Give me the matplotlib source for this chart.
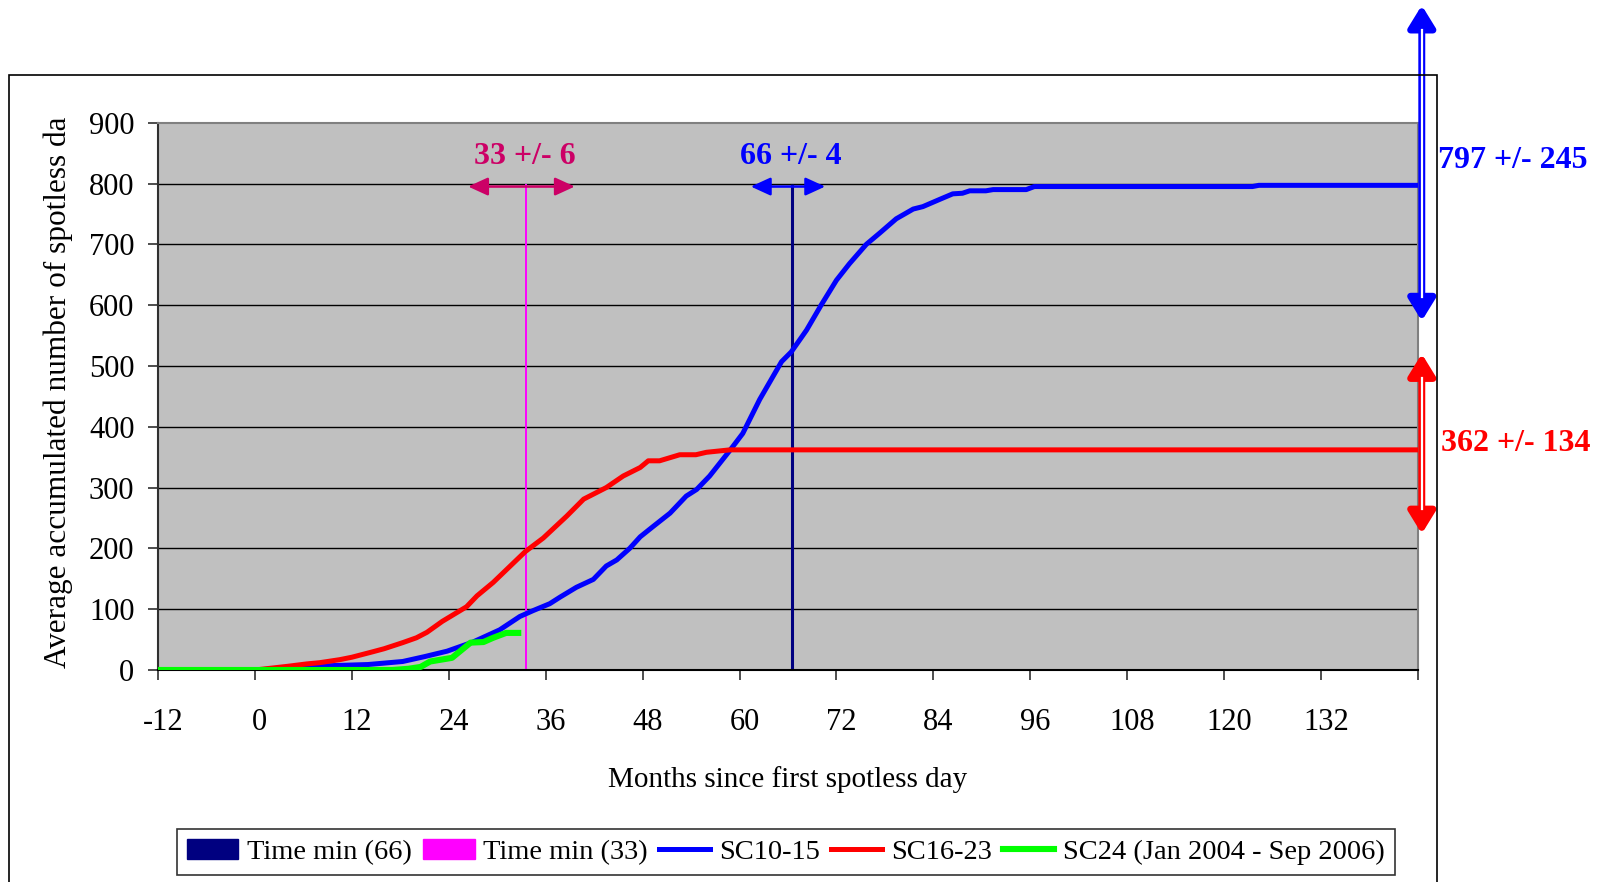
import matplotlib
matplotlib.use("Agg")
import matplotlib.pyplot as plt
from matplotlib.patches import Patch, Rectangle
from matplotlib.lines import Line2D
import matplotlib.transforms as mtransforms

plt.rcParams['font.family'] = ['Liberation Serif', 'DejaVu Serif']

# series (months since first spotless day, accumulated days)
sc10_15_months = [-12, 0, 4, 9, 14, 18.3, 21, 23.8, 27, 30.3, 32.8, 34.5, 36.5, 37.8, 39.8,
                  41.9, 43.5, 44.8, 46.4, 47.7, 49.3, 51.4, 53.4, 54.7, 56.3, 58.8, 60.4,
                  62.5, 65.2, 66.4, 68.3, 70.1, 72, 73.6, 75.7, 77.4, 79.4, 81.5, 82.7,
                  84.8, 86.4, 87.6, 88.5, 90.5, 91.4, 95.5, 96.5, 123.5, 124.3, 144]
sc10_15_vals = [0, 0, 3, 7, 9, 14, 22, 31, 46, 66, 88, 98, 109, 120, 136,
                149, 171, 181, 200, 219, 236, 258, 286, 297, 319, 361, 389,
                445, 507, 523, 559, 600, 641, 668, 700, 719, 742, 758, 762,
                774, 783, 784, 788, 788, 790, 790, 795, 795, 797, 797]

sc16_23_months = [-12, 0, 2, 4, 6.4, 8, 10.5, 12, 14.6, 16, 18.3, 20, 21.3, 23.2, 24.2,
                  26.2, 27.5, 29.5, 32.4, 33.5, 35.7, 38.6, 40.7, 43.5, 45.6, 47.7, 48.7,
                  50.1, 52.6, 54.6, 55.9, 58.8, 144]
sc16_23_vals = [0, 0, 3, 6, 10, 12, 17, 21, 30, 35, 45, 53, 62, 80, 88,
                104, 122, 144, 181, 195, 217, 253, 281, 300, 319, 333, 344,
                344, 354, 354, 358, 362, 362]

sc24_months = [-12, 17, 19, 20.5, 21.7, 24.4, 26.7, 28.3, 29.5, 31.1, 32.6]
sc24_vals = [0, 0, 2, 5, 14, 20, 45, 46, 53, 61, 61]

time_min = [66, 33]
time_min_err = [4, 6]
time_min_top = 800
total_mean = [797, 362]
total_err = [245, 134]

x_ticks = list(range(-12, 145, 12))
x_labels = [str(t) for t in x_ticks[:-1]] + ['']
y_ticks = list(range(0, 901, 100))

W, H = 1602, 882
fig = plt.figure(figsize=(W / 100, H / 100), dpi=100)
ax = fig.add_axes([158 / W, 1 - 670 / H, (1418 - 158) / W, (670 - 122.7) / H])
ax.set_facecolor('#C0C0C0')
ax.set_xlim(-12, 144)
ax.set_ylim(0, 900)

for y in y_ticks[1:-1]:
    ax.axhline(y, color='black', lw=1.0, zorder=1)

# excel category centre -> +0.5
ax.vlines(time_min[0] + 0.5, 0, time_min_top, color='#000080', lw=2.2, zorder=2)
ax.vlines(time_min[1] + 0.5, 0, time_min_top, color='#FF00FF', lw=1.4, zorder=2)

ax.plot(sc10_15_months, sc10_15_vals, color='#0000FF', lw=3.6, zorder=3, solid_joinstyle='round')
ax.plot(sc16_23_months, sc16_23_vals, color='#FF0000', lw=3.6, zorder=3, solid_joinstyle='round')
ax.plot(sc24_months, sc24_vals, color='#00FF00', lw=4.4, zorder=4, solid_joinstyle='round')

ax.set_xticks(x_ticks)
ax.set_xticklabels(x_labels)
ax.set_yticks(y_ticks)
ax.tick_params(axis='both', direction='out', length=7, width=1.2, color='#303030', labelsize=22)
ax.tick_params(axis='y', pad=10)
ax.tick_params(axis='x', pad=20)
shift = mtransforms.ScaledTranslation(5 / 100, 0, fig.dpi_scale_trans)
for lbl in ax.get_xticklabels():
    lbl.set_transform(lbl.get_transform() + shift)
for s in ['top', 'right']:
    ax.spines[s].set_color('#808080')
    ax.spines[s].set_linewidth(1.5)
ax.spines['left'].set_color('#303030')
ax.spines['left'].set_linewidth(1.5)
ax.spines['bottom'].set_color('black')
ax.spines['bottom'].set_linewidth(1.5)

# +/- arrows for the minimum times
tm_colors = ['#0000FF', '#CC0066']
for t, e, c in zip(time_min, time_min_err, tm_colors):
    ax.annotate('', xy=(t - e - 0.6, 795), xytext=(t + e + 0.6, 795),
                arrowprops=dict(arrowstyle='<|-|>,head_length=12,head_width=5.5', mutation_scale=1,
                                color=c, lw=1.8, shrinkA=0, shrinkB=0), zorder=5)
    ax.text(t + 0.4, 845, f'{t} +/- {e}', color=c, fontsize=23, fontweight='bold',
            ha='center', va='center', zorder=5)

# vertical double arrows at the right side
trans = mtransforms.blended_transform_factory(ax.transAxes, ax.transData)
tips = [(1093, 574), (520, 224)]
tot_colors = ['#0000FF', '#FF0000']
head = 40
for (top, bot), c in zip(tips, tot_colors):
    ax.annotate('', xy=(1.003, top), xytext=(1.003, bot), xycoords=trans, textcoords=trans,
                arrowprops=dict(arrowstyle='<|-|>,head_length=13,head_width=8', mutation_scale=1,
                                color=c, lw=5.0, shrinkA=0, shrinkB=0), annotation_clip=False)
    ax.plot([1.003, 1.003], [bot + head, top - head], transform=trans, color='white',
            lw=1.6, clip_on=False, zorder=6)

label_y = [838, 372]
label_x = [1.0159, 1.018]
for m, e, c, lx, ly in zip(total_mean, total_err, tot_colors, label_x, label_y):
    ax.text(lx, ly, f'{m} +/- {e}', transform=trans, color=c, fontsize=23, fontweight='bold',
            ha='left', va='center', clip_on=False)

fig.text(58 / W, 1 - 392 / H, 'Average accumulated number of spotless da', rotation=90,
         fontsize=22.5, ha='center', va='center')
fig.text(788 / W, 1 - 780 / H, 'Months since first spotless day', fontsize=21,
         ha='center', va='center')

# chart area border
fig.patches.append(Rectangle((9 / W, -0.05), (1437 - 9) / W, 1 - 75 / H + 0.05,
                             transform=fig.transFigure, fill=False, edgecolor='black', lw=1.2))

handles = [Patch(facecolor='#000080', edgecolor='#000080'),
           Patch(facecolor='#FF00FF', edgecolor='#FF00FF'),
           Line2D([], [], color='#0000FF', lw=3.6),
           Line2D([], [], color='#FF0000', lw=3.6),
           Line2D([], [], color='#00FF00', lw=4.4)]
labels = ['Time min (66)', 'Time min (33)', 'SC10-15', 'SC16-23', 'SC24 (Jan 2004 - Sep 2006)']
leg = fig.legend(handles, labels, loc='center', bbox_to_anchor=(786 / W, 1 - 852 / H), ncol=5,
                 fontsize=20.5, frameon=True, fancybox=False, edgecolor='black',
                 handlelength=1.8, handletextpad=0.3, columnspacing=0.4, borderpad=0.35,
                 borderaxespad=0)
leg.get_frame().set_linewidth(1.2)

fig.savefig('out.png', dpi=100)
